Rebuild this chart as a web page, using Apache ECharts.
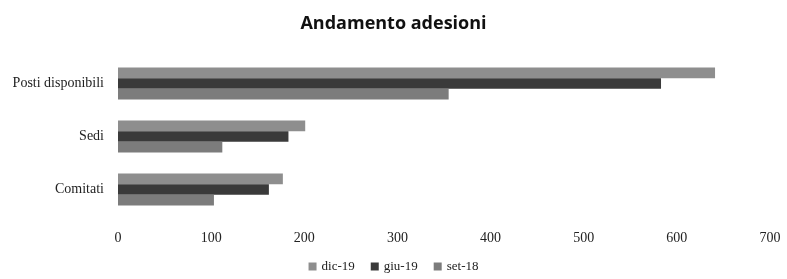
<!DOCTYPE html>
<html>
<head>
<meta charset="utf-8">
<script src="https://cdn.jsdelivr.net/npm/echarts@6/dist/echarts.min.js"></script>
<style>
  html, body { margin: 0; padding: 0; background: #fff; }
  #chart { width: 787px; height: 279px; }
</style>
</head>
<body>
<div id="chart"></div>
<script>
// categories (top to bottom) and series values
const categories = ['Posti disponibili', 'Sedi', 'Comitati'];
const seriesNames = ['dic-19', 'giu-19', 'set-18'];
const dic19 = [641, 201, 177];
const giu19 = [583, 183, 162];
const set18 = [355, 112, 103];
const xTicks = [0, 100, 200, 300, 400, 500, 600, 700];

const colors = ['#8e8e8e', '#3a3a3a', '#7c7c7c'];
const serif = '"Liberation Serif", "DejaVu Serif", serif';

function bar(name, data, color) {
  return {
    name: name,
    type: 'bar',
    data: data,
    barGap: '0%',
    barCategoryGap: '40%',
    itemStyle: { color: color }
  };
}

let myChart = echarts.init(document.getElementById('chart'));
myChart.setOption({
  animation: false,
  title: {
    text: 'Andamento adesioni',
    left: 'center',
    top: 10,
    textStyle: {
      fontFamily: '"Open Sans", "Liberation Sans", sans-serif',
      fontSize: 18,
      fontWeight: 'bold',
      color: '#111'
    }
  },
  legend: {
    data: seriesNames,
    bottom: 1,
    left: 'center',
    itemWidth: 8,
    itemHeight: 8,
    itemGap: 16,
    icon: 'rect',
    textStyle: { fontFamily: serif, fontSize: 13, color: '#222' }
  },
  grid: { left: 118, right: 17, top: 57, bottom: 63, containLabel: false },
  xAxis: {
    type: 'value',
    min: xTicks[0],
    max: xTicks[xTicks.length - 1],
    interval: 100,
    axisLine: { show: false },
    axisTick: { show: false },
    splitLine: { show: false },
    axisLabel: { fontFamily: serif, fontSize: 14, color: '#222', margin: 15 }
  },
  yAxis: {
    type: 'category',
    data: categories,
    inverse: true,
    axisLine: { show: false },
    axisTick: { show: false },
    axisLabel: { fontFamily: serif, fontSize: 14, color: '#222', margin: 14 }
  },
  series: [
    bar(seriesNames[0], dic19, colors[0]),
    bar(seriesNames[1], giu19, colors[1]),
    bar(seriesNames[2], set18, colors[2])
  ]
});
</script>
</body>
</html>
